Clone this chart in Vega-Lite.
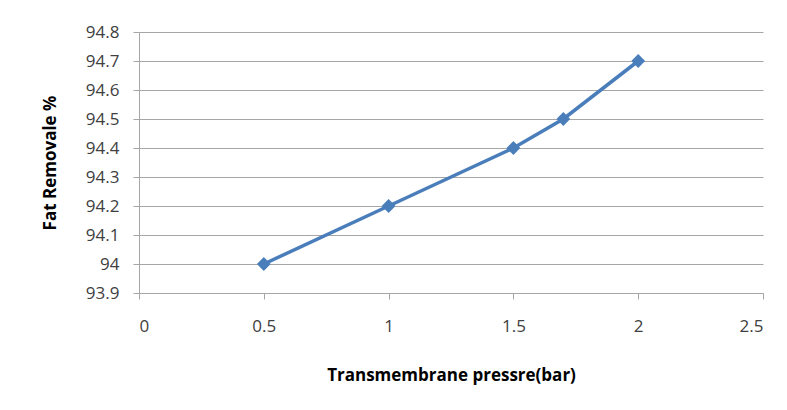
{
  "$schema": "https://vega.github.io/schema/vega-lite/v6.json",
  "autosize": "none",
  "width": 624,
  "height": 261,
  "padding": {"left": 139, "top": 32, "right": 24, "bottom": 117},
  "background": "white",
  "config": {"view": {"stroke": null}, "font": "Open Sans"},
  "data": {"values": [
    {"p": 0.5, "fat": 94.0},
    {"p": 1.0, "fat": 94.2},
    {"p": 1.5, "fat": 94.4},
    {"p": 1.7, "fat": 94.5},
    {"p": 2.0, "fat": 94.7}
  ]},
  "encoding": {
    "x": {"field": "p", "type": "quantitative",
      "scale": {"domain": [0, 2.5], "nice": false},
      "axis": {"title": "Transmembrane pressre(bar)", "values": [0, 0.5, 1, 1.5, 2, 2.5], "format": "~g",
        "grid": false, "domainColor": "#a6a6a6", "tickColor": "#a6a6a6", "tickSize": 6,
        "labelFontSize": 17, "labelColor": "#404040", "labelPadding": 19, "labelFont": "Open Sans",
        "titleFontSize": 17, "titleFontWeight": "bold", "titleColor": "#000000", "titlePadding": 33, "titleFont": "Open Sans"}},
    "y": {"field": "fat", "type": "quantitative",
      "scale": {"domain": [93.9, 94.8], "nice": false, "zero": false},
      "axis": {"title": "Fat Removale %", "values": [93.9, 94.0, 94.1, 94.2, 94.3, 94.4, 94.5, 94.6, 94.7, 94.8], "format": ".3~r",
        "grid": true, "gridColor": "#a6a6a6", "domainColor": "#a6a6a6", "tickColor": "#a6a6a6", "tickSize": 6,
        "labelFontSize": 17, "labelColor": "#404040", "labelPadding": 14, "labelFont": "Open Sans",
        "titleFontSize": 17, "titleFontWeight": "bold", "titleColor": "#000000", "titlePadding": 26, "titleFont": "Open Sans"}}
  },
  "layer": [
    {"mark": {"type": "line", "color": "#4a7ebb", "strokeWidth": 3.5}},
    {"mark": {"type": "point", "shape": "diamond", "filled": true, "color": "#4a7ebb", "size": 190, "opacity": 1}}
  ]
}
